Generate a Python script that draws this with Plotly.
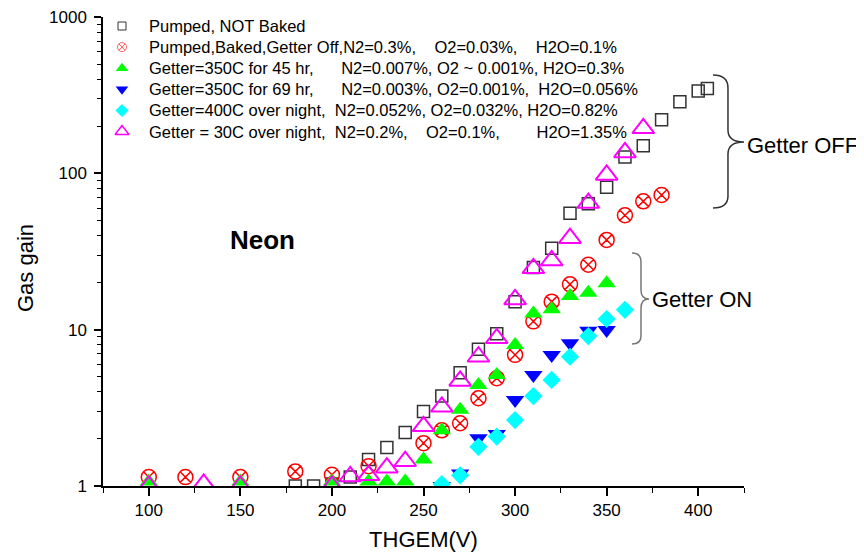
import plotly.graph_objects as go

# ---- data ----
x_black = [180, 190, 200, 210, 220, 230, 240, 250, 260, 270, 280, 290, 300, 310, 320, 330, 340, 350, 360, 370, 380, 390, 400, 405]
y_black = [1.0, 1.0, 1.03, 1.14, 1.48, 1.76, 2.2, 3.0, 3.76, 5.3, 7.5, 9.4, 15.1, 25.0, 33.2, 55.5, 64.0, 81.4, 127, 150, 220, 287, 336, 349]

x_red = [100, 120, 150, 180, 200, 220, 250, 260, 270, 280, 290, 300, 310, 320, 330, 340, 350, 360, 370, 380]
y_red = [1.14, 1.14, 1.14, 1.24, 1.18, 1.34, 1.88, 2.27, 2.52, 3.64, 4.89, 6.9, 11.3, 15.1, 19.5, 26.0, 37.5, 53.9, 66.2, 72.7]

x_green = [100, 150, 200, 220, 230, 240, 250, 260, 270, 280, 290, 300, 310, 320, 330, 340, 350]
y_green = [1.07, 1.07, 1.07, 1.07, 1.07, 1.07, 1.48, 2.27, 3.07, 4.43, 5.13, 7.98, 12.7, 13.5, 16.4, 17.2, 19.8]

x_blue = [260, 270, 280, 290, 300, 310, 320, 330, 340, 350]
y_blue = [1.0, 1.2, 2.02, 2.15, 3.55, 5.13, 6.88, 8.18, 9.85, 9.95]

x_cyan = [260, 270, 280, 290, 300, 310, 320, 330, 340, 350, 360]
y_cyan = [1.03, 1.17, 1.78, 2.07, 2.64, 3.76, 4.77, 6.71, 9.1, 11.7, 13.4]

x_mag = [100, 130, 150, 200, 210, 220, 230, 240, 250, 260, 270, 280, 290, 300, 310, 320, 330, 340, 350, 360, 370]
y_mag = [1.0, 1.03, 1.0, 1.0, 1.15, 1.17, 1.31, 1.44, 2.41, 3.21, 4.7, 6.71, 8.8, 15.6, 24.7, 27.7, 38.5, 64.5, 97.6, 136, 194]

NB = "\u00a0"
labels = [
    "Pumped, NOT Baked",
    "Pumped,Baked,Getter Off,N2=0.3%," + NB * 4 + "O2=0.03%," + NB * 4 + "H2O=0.1%",
    "Getter=350C for 45 hr," + NB * 6 + "N2=0.007%, O2 ~ 0.001%, H2O=0.3%",
    "Getter=350C for 69 hr," + NB * 6 + "N2=0.003%, O2=0.001%," + NB * 2 + "H2O=0.056%",
    "Getter=400C over night," + NB * 2 + "N2=0.052%, O2=0.032%, H2O=0.82%",
    "Getter = 30C over night," + NB * 2 + "N2=0.2%," + NB * 4 + "O2=0.1%," + NB * 8 + "H2O=1.35%",
]

FONT = "Liberation Sans, Arial, sans-serif"

# (x, y, plot marker, key marker)
series = [
    (x_black, y_black, dict(symbol="square-open", size=12, color="#333333", line=dict(width=1.5, color="#333333")),
     dict(symbol="square-open", size=8, color="#333333", line=dict(width=1, color="#333333"))),
    (x_red, y_red, dict(symbol="circle-x-open", size=15, color="#ff0000", line=dict(width=1.5, color="#ff0000")),
     dict(symbol="circle-x-open", size=9, color="#ff6060", line=dict(width=1, color="#ff6060"))),
    (x_green, y_green, dict(symbol="triangle-up", size=16, color="#00ff00", line=dict(width=0)),
     dict(symbol="triangle-up", size=11, color="#00ff00", line=dict(width=0))),
    (x_blue, y_blue, dict(symbol="triangle-down", size=16, color="#0000ff", line=dict(width=0)),
     dict(symbol="triangle-down", size=11, color="#0000ff", line=dict(width=0))),
    (x_cyan, y_cyan, dict(symbol="diamond", size=14, color="#00ffff", line=dict(width=0)),
     dict(symbol="diamond", size=10, color="#00ffff", line=dict(width=0))),
    (x_mag, y_mag, dict(symbol="triangle-up-open", size=19, color="#ff00ff", line=dict(width=2, color="#ff00ff")),
     dict(symbol="triangle-up-open", size=12, color="#ff00ff", line=dict(width=1.5, color="#ff00ff"))),
]

# ---- layout geometry (screen pixels; page body has an 8px margin) ----
OFF = 8
W, H = 864 - OFF, 559 - OFF
PLOT_L, PLOT_R, PLOT_T, PLOT_B = 103, 744, 17, 486   # target screen positions of the plot area
L = PLOT_L - OFF
T = PLOT_T - OFF
R = W - (PLOT_R - OFF)
B = H - (PLOT_B - OFF)
PW, PH = W - L - R, H - T - B


def px(xs, ys):
    """screen pixel -> paper coords"""
    return (xs - PLOT_L) / PW, (PLOT_B - ys) / PH


def path(points_cmds):
    out = []
    for cmd, pts in points_cmds:
        coords = []
        for (a, b) in pts:
            u, v = px(a, b)
            coords.append(f"{u:.4f},{v:.4f}")
        out.append(cmd + " " + " ".join(coords))
    return " ".join(out)


fig = go.Figure()
for (xs, ys, mk, kmk), name in zip(series, labels):
    fig.add_trace(go.Scatter(x=xs, y=ys, mode="markers", marker=mk, name=name, showlegend=False, cliponaxis=True))

# legend block (drawn manually so that text size and row spacing match)
KEY_X, TEXT_X, ROW0, ROW_STEP = 122, 147, 26, 21.1
key_y = [ROW0 + ROW_STEP * i for i in range(len(labels))]
for i, ((xs, ys, mk, kmk), name) in enumerate(zip(series, labels)):
    fig.add_trace(go.Scatter(x=[KEY_X], y=[key_y[i]], xaxis="x2", yaxis="y2", mode="markers", marker=kmk,
                             showlegend=False, hoverinfo="skip", cliponaxis=False))

brace_off = path([
    ("M", [(713, 75)]), ("Q", [(728, 75), (728, 88)]), ("L", [(728, 130)]),
    ("Q", [(728, 142), (744, 142)]), ("Q", [(728, 142), (728, 154)]), ("L", [(728, 196)]),
    ("Q", [(728, 208), (713, 208)]),
])
brace_on = path([
    ("M", [(632, 253)]), ("Q", [(641, 253), (641, 262)]), ("L", [(641, 290)]),
    ("Q", [(641, 299), (649, 299)]), ("Q", [(641, 299), (641, 308)]), ("L", [(641, 336)]),
    ("Q", [(641, 344), (632, 344)]),
])

shapes = [
    dict(type="path", xref="paper", yref="paper", path=brace_off, line=dict(color="#333333", width=1.5)),
    dict(type="path", xref="paper", yref="paper", path=brace_on, line=dict(color="#777777", width=1.5)),
]

annotations = []
for i, name in enumerate(labels):
    ax, ay = px(TEXT_X, key_y[i])
    annotations.append(dict(text=name, x=ax, y=ay, xref="paper", yref="paper", xanchor="left", yanchor="middle",
                            showarrow=False, font=dict(size=16.5, color="black", family=FONT)))

ox, oy = px(745, 145)
nx, ny = px(650, 299)
ex, ey = px(262, 240)
gx, gy = px(25, 268)
annotations += [
    dict(text="Getter OFF", x=ox, y=oy, xref="paper", yref="paper", xanchor="left", yanchor="middle",
         showarrow=False, font=dict(size=22, color="black", family=FONT)),
    dict(text="Getter ON", x=nx, y=ny, xref="paper", yref="paper", xanchor="left", yanchor="middle",
         showarrow=False, font=dict(size=22, color="black", family=FONT)),
    dict(text="<b>Neon</b>", x=ex, y=ey, xref="paper", yref="paper", xanchor="center", yanchor="middle",
         showarrow=False, font=dict(size=26, color="black", family=FONT)),
    dict(text="Gas gain", x=gx, y=gy, xref="paper", yref="paper", xanchor="center", yanchor="middle",
         textangle=-90, showarrow=False, font=dict(size=22, color="black", family=FONT)),
]

fig.update_layout(
    width=W, height=H,
    margin=dict(l=L, r=R, t=T, b=B, autoexpand=False),
    paper_bgcolor="white", plot_bgcolor="white",
    font=dict(family=FONT, color="black"),
    shapes=shapes, annotations=annotations,
    showlegend=False,
    xaxis=dict(range=[75, 425], showline=True, linecolor="black", linewidth=1.5, showgrid=False, zeroline=False,
               ticks="outside", ticklen=8, tickwidth=1.5, tickcolor="black", dtick=50, tick0=0,
               tickfont=dict(size=17), title=dict(text="THGEM(V)", font=dict(size=22), standoff=12),
               automargin=False,
               minor=dict(ticks="outside", ticklen=5, tickwidth=1.2, tickcolor="black", dtick=25, tick0=0, showgrid=False)),
    yaxis=dict(type="log", range=[0, 3], showline=True, linecolor="black", linewidth=1.5, showgrid=False,
               zeroline=False, ticks="outside", ticklen=7, tickwidth=1.5, tickcolor="black", automargin=False,
               ticklabelstandoff=4, ticklabeloverflow="allow",
               tickvals=[1, 10, 100, 1000], ticktext=["1", "10", "100", "1000"], tickfont=dict(size=17),
               minor=dict(ticks="outside", ticklen=4, tickwidth=1.2, tickcolor="black", dtick="D1", showgrid=False)),
    # overlay axes in screen-pixel units, used only to place the legend keys
    xaxis2=dict(overlaying="x", range=[PLOT_L, PLOT_R], visible=False, fixedrange=True),
    yaxis2=dict(overlaying="y", range=[PLOT_B, PLOT_T], visible=False, fixedrange=True),
)

fig.write_html("out.html")
